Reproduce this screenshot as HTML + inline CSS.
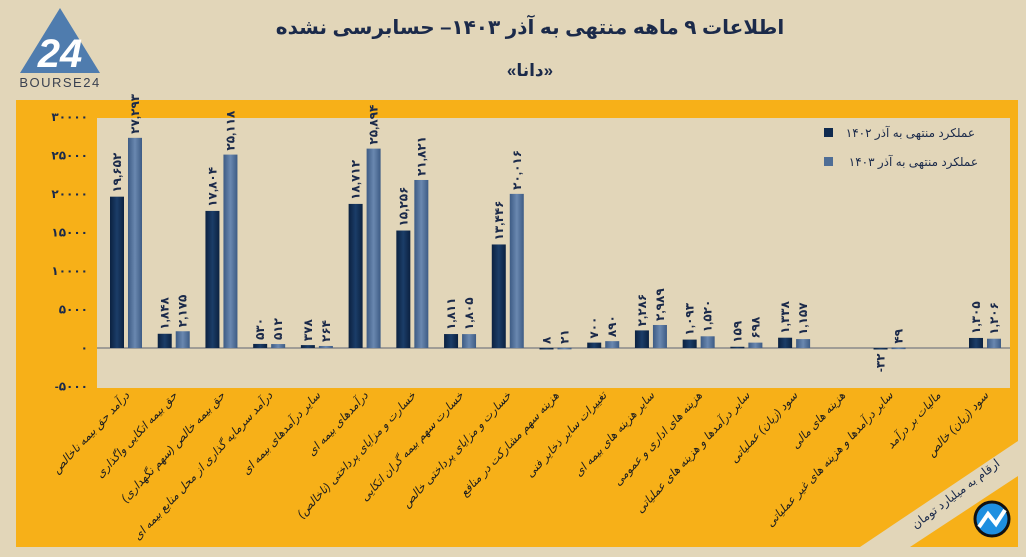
<!DOCTYPE html>
<html><head><meta charset="utf-8">
<style>
html,body{margin:0;padding:0;background:#e2d6b9;}
svg{display:block;}
text{font-family:"Liberation Sans","DejaVu Sans","Noto Sans CJK SC",sans-serif;}
</style></head>
<body>
<svg id="chart" width="1026" height="557" viewBox="0 0 1026 557" xmlns="http://www.w3.org/2000/svg">
<defs>
<linearGradient id="gDark" x1="0" x2="1" y1="0" y2="0"><stop offset="0" stop-color="#0b2140"/><stop offset="0.5" stop-color="#1b3d68"/><stop offset="1" stop-color="#0b2140"/></linearGradient>
<linearGradient id="gLight" x1="0" x2="1" y1="0" y2="0"><stop offset="0" stop-color="#3d5b84"/><stop offset="0.5" stop-color="#6a88b0"/><stop offset="1" stop-color="#3d5b84"/></linearGradient>
</defs>
<rect x="0" y="0" width="1026" height="557" fill="#e2d6b9"/>
<g>
<polygon points="60,8 100,73 20,73" fill="#4f7cae"/>
<text x="60" y="67" text-anchor="middle" font-size="40" fill="#fff" font-weight="bold" font-style="italic">24</text>
<text x="60" y="87" text-anchor="middle" font-size="13" fill="#3a4150" letter-spacing="1.5">BOURSE24</text>
</g>
<text x="530" y="34" text-anchor="middle" font-size="20" font-weight="bold" fill="#1b2a4a" direction="rtl">اطلاعات ۹  ماهه منتهی به آذر ۱۴۰۳– حسابرسی نشده</text>
<text x="530" y="76" text-anchor="middle" font-size="17" font-weight="bold" fill="#1b2a4a" direction="rtl">«دانا»</text>
<rect x="16" y="100" width="1002" height="447" fill="#f7b018"/>
<polygon points="860,547 910,547 1018,476 1018,441" fill="#e2d6b9"/>
<rect x="97" y="118" width="913" height="270" fill="#e2d6b9"/>
<g id="yaxis"></g>
<line id="zeroLine" x1="97" x2="1010" stroke="#8a8a8a" stroke-width="1.5"/>
<g id="bars"></g>
<g id="xlabels"></g>
<g>
<rect x="824" y="128" width="9" height="9" fill="#0f2a4f"/>
<text x="975" y="137" text-anchor="start" font-size="12" fill="#1b2a4a" direction="rtl">عملکرد منتهی به آذر ۱۴۰۲</text>
<rect x="824" y="157" width="9" height="9" fill="#4f6e96"/>
<text x="978" y="166" text-anchor="start" font-size="12" fill="#1b2a4a" direction="rtl">عملکرد منتهی به آذر ۱۴۰۳</text>
</g>
<text transform="translate(958,497) rotate(-37)" text-anchor="middle" font-size="12" fill="#1b2a4a" direction="rtl">ارقام به میلیارد تومان</text>
<g>
<circle cx="992" cy="519" r="17" fill="#1e8fe0" stroke="#111" stroke-width="3"/>
<polyline points="979,527 988,514 996,524 1005,510" fill="none" stroke="#fff" stroke-width="4"/>
</g>
</svg>
<script>
const categories = ["درآمد حق بیمه ناخالص","حق بیمه اتکایی واگذاری","حق بیمه خالص (سهم نگهداری)","درآمد سرمایه گذاری از محل منابع بیمه ای","سایر درآمدهای بیمه ای","درآمدهای بیمه ای","خسارت و مزایای پرداختی (ناخالص)","خسارت سهم بیمه گران اتکایی","خسارت و مزایای پرداختی خالص","هزینه سهم مشارکت در منافع","تغییرات سایر ذخایر فنی","سایر هزینه های بیمه ای","هزینه های اداری و عمومی","سایر درآمدها و هزینه های عملیاتی","سود (زیان) عملیاتی","هزینه های مالی","سایر درآمدها و هزینه های غیر عملیاتی","مالیات بر درآمد","سود (زیان) خالص"];
const values1402 = [19652,1848,17804,530,378,18712,15256,1811,13446,8,700,2286,1093,159,1338,null,-32,null,1305];
const values1403 = [27293,2175,25118,512,264,25894,21821,1805,20016,21,890,2989,1520,698,1157,null,49,null,1206];
const yTicks = [30000,25000,20000,15000,10000,5000,0,-5000];

const NS="http://www.w3.org/2000/svg";
const yMin=-5000,yMax=30000,yTop=117,yBot=386.5;
function y(v){return yBot-(v-yMin)/(yMax-yMin)*(yBot-yTop);}
const xFirst=126,xLast=985;
function xc(i){return xFirst+i*(xLast-xFirst)/(categories.length-1);}
function fa(n){return String(n).replace(/\d/g,d=>"۰۱۲۳۴۵۶۷۸۹"[d]);}
function fmt(v){const s=Math.abs(v)>=1000?Math.abs(v).toLocaleString("en-US"):String(Math.abs(v));return (v<0?"-":"")+fa(s);}
function mk(tag,attrs,parent){const e=document.createElementNS(NS,tag);for(const k in attrs)e.setAttribute(k,attrs[k]);parent.appendChild(e);return e;}

const ya=document.getElementById("yaxis");
yTicks.forEach(t=>{
  const e=mk("text",{x:88,y:y(t)+4,"text-anchor":"end","font-size":"12","font-weight":"bold",fill:"#1b2a4a"},ya);
  
  
  e.textContent=fa(t);
});
const zl=document.getElementById("zeroLine");zl.setAttribute("y1",y(0));zl.setAttribute("y2",y(0));

const bg=document.getElementById("bars");
const bw=14;
function drawBar(v,x,fill,name){
  if(v===null)return;
  const top=Math.min(y(v),y(0)),h=Math.max(Math.abs(y(v)-y(0)),1.5);
  const r=mk("rect",{x:x,y:top,width:bw,height:h,fill:fill},bg);
  
  
  const lx=x+bw/2+4;
  let ly,anchor;
  if(v>=0){ly=top-4;anchor="start";}else{ly=top+h+4;anchor="end";}
  const t=mk("text",{transform:`translate(${lx},${ly}) rotate(-90)`,"text-anchor":anchor,"font-size":"12","font-weight":"bold",fill:"#1b2a4a"},bg);
  
  
  t.textContent=fmt(v);
}
categories.forEach((c,i)=>{
  const cx=xc(i);
  drawBar(values1402[i],cx-bw-2,"url(#gDark)","bar-1402");
  drawBar(values1403[i],cx+2,"url(#gLight)","bar-1403");
});
const xl=document.getElementById("xlabels");
categories.forEach((c,i)=>{
  const t=mk("text",{transform:`translate(${xc(i)+4},${396}) rotate(-47)`,"text-anchor":"end","font-size":"11.5","font-style":"italic",fill:"#1e1e1e"},xl);
  
  
  t.textContent=c;
});
</script>
</body></html>
